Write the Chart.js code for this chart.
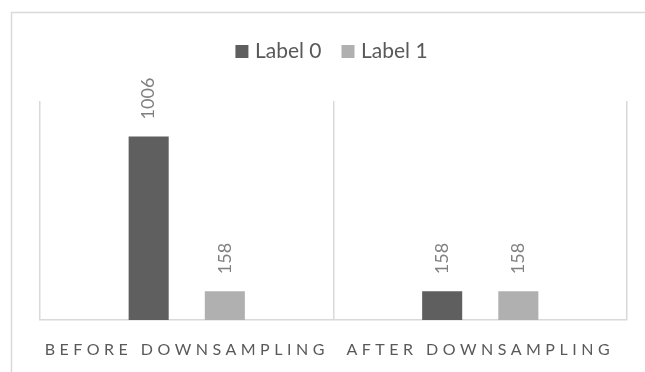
<!DOCTYPE html>
<html>
<head>
<meta charset="utf-8">
<script src="https://cdn.jsdelivr.net/npm/chart.js@4.4.1/dist/chart.umd.min.js"></script>
<style>
  html, body { margin: 0; padding: 0; background: #ffffff; }
  #wrap { width: 645px; height: 372px; position: relative; }
</style>
</head>
<body>
<div id="wrap"><canvas id="c" width="645" height="372"></canvas></div>
<script>
// Categories and series
const categories = ['BEFORE DOWNSAMPLING', 'AFTER DOWNSAMPLING'];
const seriesNames = ['Label 0', 'Label 1'];
const label0Values = [1006, 158];
const label1Values = [158, 158];
const seriesColors = ['#5f5f5f', '#b0b0b0'];

const LINE = '#d9d9d9';

// Outer frame of the chart
const framePlugin = {
  id: 'frame',
  beforeDraw(chart) {
    const ctx = chart.ctx;
    ctx.save();
    ctx.strokeStyle = LINE;
    ctx.lineWidth = 1.5;
    ctx.strokeRect(11.5, 12.5, 700, 400);
    ctx.restore();
    ctx.letterSpacing = '0px';
  }
};

// Rotated value labels above each bar; then widen letter spacing for category labels
const valueLabels = {
  id: 'valueLabels',
  afterDatasetsDraw(chart) {
    const ctx = chart.ctx;
    ctx.save();
    ctx.letterSpacing = '0px';
    ctx.fillStyle = '#808080';
    ctx.font = '18px Lato';
    ctx.textAlign = 'left';
    ctx.textBaseline = 'middle';
    chart.data.datasets.forEach((ds, di) => {
      const meta = chart.getDatasetMeta(di);
      meta.data.forEach((bar, i) => {
        ctx.save();
        ctx.translate(bar.x, bar.y - 17);
        ctx.rotate(-Math.PI / 2);
        ctx.fillText(String(ds.data[i]), 0, 0);
        ctx.restore();
      });
    });
    ctx.restore();
    ctx.letterSpacing = '4.5px';
  },
  afterDraw(chart) {
    chart.ctx.letterSpacing = '0px';
  }
};

new Chart(document.getElementById('c'), {
  type: 'bar',
  data: {
    labels: categories,
    datasets: [
      { label: seriesNames[0], data: label0Values, backgroundColor: seriesColors[0] },
      { label: seriesNames[1], data: label1Values, backgroundColor: seriesColors[1] }
    ]
  },
  options: {
    responsive: false,
    animation: false,
    devicePixelRatio: 1,
    categoryPercentage: 0.519,
    barPercentage: 0.526,
    layout: { padding: { top: 17, left: 40, right: 18, bottom: 14 } },
    plugins: {
      tooltip: { enabled: false },
      legend: {
        position: 'top',
        align: 'center',
        labels: {
          usePointStyle: true,
          pointStyle: 'rect',
          boxWidth: 5,
          boxHeight: 13,
          padding: 24,
          color: '#595959',
          font: { family: 'Lato', size: 21 }
        }
      }
    },
    scales: {
      x: {
        grid: { display: true, offset: true, color: LINE, lineWidth: 1.5, drawTicks: false },
        border: { display: true, color: LINE, width: 1.5 },
        ticks: {
          z: 1,
          padding: 20,
          color: '#595959',
          font: { family: 'Lato', size: 16 },
          maxRotation: 0,
          autoSkip: false
        },
        afterFit(scale) { scale.height = 38; }
      },
      // empty band between the legend and the plot area
      gap: {
        type: 'category',
        position: 'top',
        display: true,
        grid: { display: false },
        border: { display: false },
        ticks: { display: false },
        afterFit(scale) { scale.height = 29; }
      },
      y: {
        display: false,
        min: 0,
        max: 1200
      }
    }
  },
  plugins: [framePlugin, valueLabels]
});
</script>
</body>
</html>
